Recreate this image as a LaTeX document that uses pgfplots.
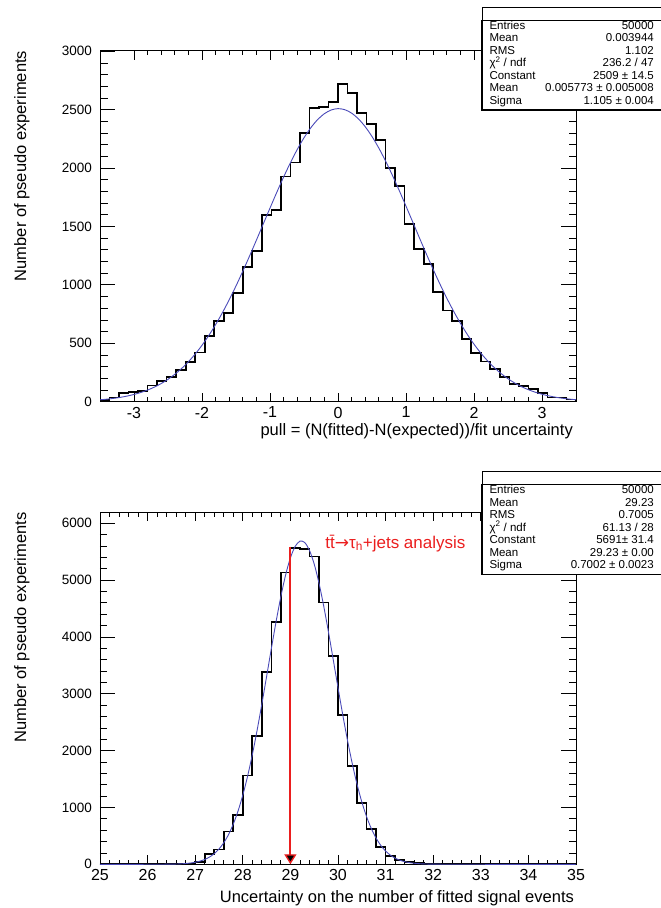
\documentclass[border=0pt]{standalone}
\usepackage{fontspec}
\setmainfont{Liberation Sans}
\newfontfamily\dejavu{DejaVu Sans}
\usepackage{pgfplots}
\pgfplotsset{compat=1.18}
\usetikzlibrary{arrows.meta}
\definecolor{fitblue}{RGB}{75,75,185}
\definecolor{rootred}{RGB}{235,30,30}

\pgfplotstableread{
x y
-3.50 0
-3.50 15
-3.36 35
-3.22 75
-3.08 82
-2.94 89
-2.80 138
-2.66 180
-2.52 214
-2.38 274
-2.24 342
-2.10 420
-1.96 562
-1.82 691
-1.68 757
-1.54 933
-1.40 1156
-1.26 1293
-1.12 1598
-0.98 1641
-0.84 1927
-0.70 2049
-0.56 2298
-0.42 2512
-0.28 2523
-0.14 2563
0.00 2717
0.14 2640
0.28 2469
0.42 2375
0.56 2240
0.70 2001
0.84 1847
0.98 1519
1.12 1307
1.26 1176
1.40 942
1.54 780
1.68 690
1.82 535
1.96 414
2.10 343
2.24 277
2.38 214
2.52 149
2.66 134
2.80 109
2.94 77
3.08 37
3.22 35
3.36 20
3.50 20
3.50 0
}\histtop

\pgfplotstableread{
x y
-3.5 16.4
-3.4 21.7
-3.3 28.6
-3.2 37.3
-3.1 48.3
-3.0 62.0
-2.9 79.0
-2.8 99.8
-2.7 125.1
-2.6 155.5
-2.5 191.7
-2.4 234.4
-2.3 284.3
-2.2 342.0
-2.1 408.0
-2.0 482.9
-1.9 566.9
-1.8 659.9
-1.7 761.9
-1.6 872.6
-1.5 991.1
-1.4 1116.8
-1.3 1248.0
-1.2 1383.0
-1.1 1520.5
-1.0 1657.7
-0.9 1792.7
-0.8 1923.0
-0.7 2045.8
-0.6 2158.8
-0.5 2259.4
-0.4 2345.2
-0.3 2414.7
-0.2 2465.8
-0.1 2497.5
0.0 2509.0
0.1 2499.9
0.2 2470.6
0.3 2421.7
0.4 2354.5
0.5 2270.4
0.6 2171.5
0.7 2059.9
0.8 1938.2
0.9 1808.7
1.0 1674.1
1.1 1537.0
1.2 1399.5
1.3 1264.0
1.4 1132.2
1.5 1005.9
1.6 886.4
1.7 774.7
1.8 671.7
1.9 577.5
2.0 492.5
2.1 416.6
2.2 349.5
2.3 290.8
2.4 240.0
2.5 196.5
2.6 159.5
2.7 128.5
2.8 102.6
2.9 81.3
3.0 63.9
3.1 49.8
3.2 38.5
3.3 29.5
3.4 22.4
3.5 16.9
}\fittop

\pgfplotstableread{
x y
25.0 0
26.6 2
26.8 5
27.0 35
27.2 185
27.4 258
27.6 575
27.8 868
28.0 1560
28.2 2253
28.4 3380
28.6 4260
28.8 5134
29.0 5563
29.2 5546
29.4 5416
29.6 4606
29.8 3667
30.0 2629
30.2 1731
30.4 1074
30.6 621
30.8 310
31.0 148
31.2 76
31.4 40
31.6 22
31.8 10
32.0 5
32.2 2
32.4 0
35.0 0
}\histbot

\pgfplotstableread{
x y
25.0 0
26.0 0.1
26.5 2.8
26.6 4.9
26.7 8.3
26.8 13.8
26.9 22.4
27.0 35.7
27.1 55.7
27.2 85.1
27.3 127.5
27.4 187.1
27.5 269.0
27.6 378.8
27.7 522.8
27.8 707.1
27.9 937.0
28.0 1216.5
28.1 1547.6
28.2 1928.9
28.3 2355.7
28.4 2818.8
28.5 3304.8
28.6 3796.6
28.7 4273.5
28.8 4712.8
28.9 5092.6
29.0 5392.1
29.1 5593.7
29.2 5685.8
29.3 5662.6
29.4 5525.7
29.5 5283.2
29.6 4949.5
29.7 4543.1
29.8 4085.9
29.9 3600.5
30.0 3108.8
30.1 2630.0
30.2 2180.1
30.3 1770.5
30.4 1409.0
30.5 1098.6
30.6 839.1
30.7 628.1
30.8 460.7
30.9 331.1
31.0 233.1
31.1 160.9
31.2 108.7
31.3 72.0
31.4 46.8
31.5 29.7
31.6 18.5
31.7 11.3
31.8 6.8
31.9 4.0
32.0 2.3
33.0 0.05
35.0 0
}\fitbot

\pgfplotsset{
  rootaxis/.style={
    scale only axis, anchor=south west,
    width=476pt,
    axis line style={line width=0.9pt},
    tick align=inside,
    minor x tick num=4, minor y tick num=4,
    xtick style={/pgfplots/major tick length=9pt, /pgfplots/minor tick length=4.5pt, line width=0.8pt, black},
    ytick style={/pgfplots/major tick length=15pt, /pgfplots/minor tick length=7.5pt, line width=0.8pt, black},
    minor tick style={line width=0.7pt},
    scaled ticks=false,
    /pgf/number format/assume math mode=true,
    /pgf/number format/1000 sep={},
    xticklabel style={font=\fontsize{16}{16}\selectfont, inner sep=0pt, yshift=-5pt},
    yticklabel style={font=\fontsize{13.5}{13.5}\selectfont, inner sep=0pt, xshift=-8pt},
    label style={font=\fontsize{16.5}{16.5}\selectfont, inner sep=0pt},
    ylabel={Number of pseudo experiments},
  },
  histstyle/.style={black, line width=1.7pt, const plot mark left, mark=none},
  fitstyle/.style={fitblue, line width=0.9pt, smooth, mark=none},
}

\newcommand{\statrow}[3]{%
  \node[anchor=base west, inner sep=0pt, font=\fontsize{11.5}{11.5}\selectfont] at (489.3pt,#1pt) {#2};
  \node[anchor=base east, inner sep=0pt, font=\fontsize{11.5}{11.5}\selectfont] at (654pt,#1pt) {#3};
}

\begin{document}
\begin{tikzpicture}
\path[use as bounding box] (0,0) rectangle (661pt,908pt);

% ---------- top plot ----------
\begin{axis}[rootaxis,
  at={(100pt,506.3pt)}, height=351pt,
  xmin=-3.5, xmax=3.5, ymin=0, ymax=3005,
  xtick={-3,-2,-1,0,1,2,3},
  ytick={0,500,1000,1500,2000,2500,3000},
  xlabel={pull = (N(fitted)-N(expected))/fit uncertainty},
  xlabel style={at={(axis description cs:0.9937,-0.0850)}, anchor=east},
  ylabel style={at={(axis description cs:-0.164,1)}, anchor=east},
]
\addplot[histstyle] table[x=x,y=y] {\histtop};
\addplot[fitstyle] table[x=x,y=y] {\fittop};
\end{axis}

% ---------- bottom plot ----------
\begin{axis}[rootaxis,
  at={(100pt,43.7pt)}, height=352pt,
  xmin=25, xmax=35, ymin=0, ymax=6194,
  xtick={25,26,27,28,29,30,31,32,33,34,35},
  ytick={0,1000,2000,3000,4000,5000,6000},
  xlabel={Uncertainty on the number of fitted signal events},
  xlabel style={at={(axis description cs:0.996,-0.0966)}, anchor=east},
  ylabel style={at={(axis description cs:-0.164,1)}, anchor=east},
]
\addplot[histstyle] table[x=x,y=y] {\histbot};
\addplot[fitstyle] table[x=x,y=y] {\fitbot};
\addplot[rootred, line width=2pt, -{Triangle[width=12pt,length=10pt,fill=black,line width=1.4pt]}] coordinates {(29,5591) (29,0)};
\node[anchor=base west, inner sep=0pt, text=rootred, font=\fontsize{17}{17}\selectfont]
  at (axis cs:29.73,5563) {t\={t}{\dejavu →}τ\textsubscript{h}+jets analysis};
\end{axis}

% ---------- stat boxes ----------
\draw[line width=0.8pt, fill=white] (482pt,798pt) rectangle (670pt,900.7pt);
\draw[line width=0.8pt] (482pt,888pt) -- (670pt,888pt);
\draw[line width=1.6pt] (482pt,888pt) -- (482pt,798pt) -- (670pt,798pt);
\statrow{878.7}{Entries}{50000}
\statrow{866.2}{Mean}{0.003944}
\statrow{853.7}{RMS}{1.102}
\statrow{841.2}{χ\textsuperscript{2} / ndf}{236.2 / 47}
\statrow{828.7}{Constant}{2509 ± 14.5}
\statrow{816.2}{Mean}{0.005773 ± 0.005008}
\statrow{803.7}{Sigma}{1.105 ± 0.004}

\draw[line width=0.8pt, fill=white] (482pt,333.6pt) rectangle (670pt,436.3pt);
\draw[line width=0.8pt] (482pt,423.6pt) -- (670pt,423.6pt);
\draw[line width=1.6pt] (482pt,423.6pt) -- (482pt,333.6pt) -- (670pt,333.6pt);
\statrow{414.3}{Entries}{50000}
\statrow{401.8}{Mean}{29.23}
\statrow{389.3}{RMS}{0.7005}
\statrow{376.8}{χ\textsuperscript{2} / ndf}{61.13 / 28}
\statrow{364.3}{Constant}{5691± 31.4}
\statrow{351.8}{Mean}{29.23 ± 0.00}
\statrow{339.3}{Sigma}{0.7002 ± 0.0023}
\end{tikzpicture}
\end{document}
